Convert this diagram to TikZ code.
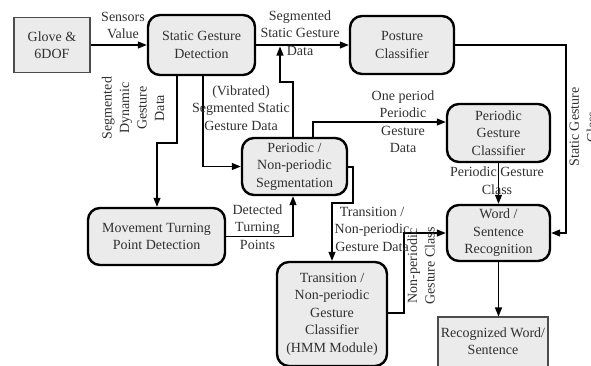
\documentclass[tikz,border=0pt]{standalone}
\usepackage{fontspec}
\setmainfont{Liberation Serif}
\usetikzlibrary{arrows.meta}
\definecolor{boxfill}{HTML}{EBEBEB}
\definecolor{txt}{HTML}{303030}
\begin{document}
\begin{tikzpicture}[x=1pt,y=-1pt,
  every node/.style={font=\fontsize{14}{17.5}\selectfont, text=txt, align=center, inner sep=0pt},
  rbox/.style={draw=black, line width=2.4pt, fill=boxfill, rounded corners=12pt},
  sbox/.style={draw=black!70, line width=1.1pt, fill=boxfill},
  conn/.style={line width=1.2pt, -{Triangle[length=9pt,width=7pt]}},
  plain/.style={line width=1.2pt},
  lbl/.style={}]
\useasboundingbox (0,0) rectangle (591,365);
\begin{scope}
\clip (0,0) rectangle (591,365);
% nodes
\node[sbox, minimum width=76pt, minimum height=55pt] (glove) at (52,45) {Glove \&\\6DOF};
\node[rbox, minimum width=107pt, minimum height=60pt] (static) at (201.5,45) {Static Gesture\\Detection};
\node[rbox, minimum width=104pt, minimum height=58pt] (posture) at (402,45) {Posture\\Classifier};
\node[rbox, minimum width=105pt, minimum height=57pt] (seg) at (294.5,166.5) {Periodic /\\Non-periodic\\Segmentation};
\node[rbox, minimum width=103pt, minimum height=58pt] (pgc) at (498.5,133) {Periodic\\Gesture\\Classifier};
\node[rbox, minimum width=137pt, minimum height=57pt] (move) at (156.5,236.5) {Movement Turning\\Point Detection};
\node[rbox, minimum width=110pt, minimum height=104pt] (trans) at (332,314) {Transition /\\Non-periodic\\Gesture\\Classifier\\(HMM Module)};
\node[rbox, minimum width=103pt, minimum height=56pt] (word) at (498.5,233) {Word /\\Sentence\\Recognition};
\node[sbox, minimum width=110pt, minimum height=56pt, text depth=0pt] (recog) at (493,345) {};
\node at (493,341) {Recognized Word/\\Sentence};
% helper coordinates
\coordinate (j) at (280,45);
% connectors
\draw[conn] (glove.east) -- (static.west);
\draw[conn] (static.east) -- (posture.west);
\draw[conn, shorten >=1.5pt] (seg.north -| 293,0) -- (293,82) -- (280,82) -- (j);
\draw[conn] (static.south -| 203,0) |- (seg.west);
\draw[conn] (static.south -| 177,0) -- (177,143) -- (157,143) -- (move.north -| 157,0);
\draw[conn] (move.east) -| (seg.south -| 293,0);
\draw[conn] (seg.north -| 313,0) |- (pgc.west |- 0,122);
\draw[conn] (seg.east |- 0,167) -- (353,167) -- (353,203) -- (332,203) -- (trans.north);
\draw[conn] (trans.east |- 0,313) -- (404,313) -- (404,233) -- (word.west);
\draw[conn] (pgc.south) -- (word.north);
\draw[conn] (posture.east) -- (566,45) -- (566,233) -- (word.east);
\draw[conn] (word.south) -- (word.south |- recog.north);
% labels
\node (l1) at (123,25.5) {Sensors\\Value};
\node (l2) at (300,33) {Segmented\\Static Gesture\\Data};
\node (l3) at (241,108) {(Vibrated)\\Segmented Static\\Gesture Data};
\node[rotate=90] (l4) at (133,108) {Segmented\\Dynamic\\Gesture\\Data};
\node (l5) at (257.5,227) {Detected\\Turning\\Points};
\node (l6) at (403,121.5) {One period\\Periodic\\Gesture\\Data};
\node (l7) at (497,180.5) {Periodic Gesture\\Class};
\node (l8) at (372,229) {Transition /\\Non-periodic\\Gesture Data};
\node[rotate=90] (l9) at (421,266) {Non-periodic\\Gesture Class};
\node[rotate=90] (l10) at (583,127) {Static Gesture\\Class};
\end{scope}
\end{tikzpicture}
\end{document}
